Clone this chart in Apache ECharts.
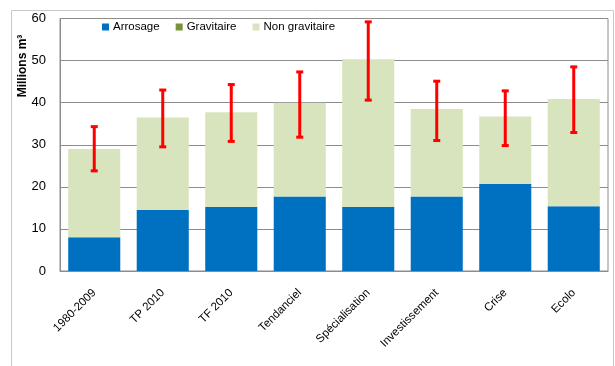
<!DOCTYPE html>
<html><head><meta charset="utf-8">
<script src="https://cdn.jsdelivr.net/npm/echarts@6/dist/echarts.min.js"></script>
<style>html,body{margin:0;padding:0;background:#fff}#c{width:615px;height:366px}</style>
</head><body><div id="c"></div>
<script>
const categories = ['1980-2009','TP 2010','TF 2010','Tendanciel','Spécialisation','Investissement','Crise','Ecolo'];
const arrosage = [8.0, 14.5, 15.2, 17.7, 15.2, 17.7, 20.7, 15.4];
const gravitaire = [0, 0, 0, 0, 0, 0, 0, 0];
const nonGravitaire = [21.0, 22.0, 22.5, 22.3, 35.1, 20.8, 16.0, 25.5];
const errLow = [23.8, 29.5, 30.8, 31.8, 40.6, 31.0, 29.8, 32.9];
const errHigh = [34.3, 43.0, 44.3, 47.3, 59.2, 45.1, 42.8, 48.5];
const yTicks = [0, 10, 20, 30, 40, 50, 60];

const FONT = 'Liberation Sans';
const chart = echarts.init(document.getElementById('c'), null, {renderer: 'canvas'});
const errData = categories.map((c, i) => [i, errLow[i], errHigh[i]]);
chart.setOption({
  animation: false,
  textStyle: {fontFamily: FONT},
  graphic: [
    {type: 'rect', shape: {x: 11.5, y: 10.5, width: 602, height: 370}, style: {fill: 'none', stroke: '#c8c8c8', lineWidth: 1}, z: -10},
    {type: 'text', x: 23, y: 66, rotation: Math.PI / 2,
     style: {text: 'Millions m³', fontFamily: FONT, fontSize: 12, fontWeight: 'bold', fill: '#000', align: 'center', verticalAlign: 'middle'}}
  ],
  legend: {
    top: 19, left: 98, itemWidth: 7, itemHeight: 7, itemGap: 16, icon: 'rect',
    backgroundColor: '#fff', padding: [2, 4],
    textStyle: {fontFamily: FONT, fontSize: 11.5, color: '#000', padding: [0, 0, 0, -1]},
    data: ['Arrosage', 'Gravitaire', 'Non gravitaire']
  },
  grid: {left: 60, right: 7, top: 18.5, bottom: 95, show: true, borderColor: '#8c8c8c', borderWidth: 1},
  xAxis: {
    type: 'category', data: categories,
    axisLine: {lineStyle: {color: '#8c8c8c'}},
    axisTick: {show: false},
    axisLabel: {rotate: 45, fontSize: 11.5, color: '#000', fontFamily: FONT, margin: 20, interval: 0}
  },
  yAxis: {
    type: 'value', min: yTicks[0], max: yTicks[yTicks.length - 1], interval: 10,
    axisLine: {show: true, lineStyle: {color: '#8c8c8c'}},
    axisTick: {show: false},
    axisLabel: {fontSize: 13, color: '#000', fontFamily: FONT, margin: 14},
    splitLine: {lineStyle: {color: '#8c8c8c', width: 1}}
  },
  series: [
    {name: 'Arrosage', type: 'bar', stack: 's', data: arrosage, barCategoryGap: '24%', itemStyle: {color: '#0070C0'}},
    {name: 'Gravitaire', type: 'bar', stack: 's', data: gravitaire, itemStyle: {color: '#77933C'}},
    {name: 'Non gravitaire', type: 'bar', stack: 's', data: nonGravitaire, itemStyle: {color: '#D7E4BD'}},
    {
      type: 'custom', z: 10, data: errData,
      renderItem: function (params, api) {
        const x = api.value(0);
        const lo = api.coord([x, api.value(1)]);
        const hi = api.coord([x, api.value(2)]);
        const cw = 3.5;
        const st = {stroke: '#FF0000', lineWidth: 3};
        return {type: 'group', children: [
          {type: 'line', shape: {x1: lo[0], y1: lo[1], x2: hi[0], y2: hi[1]}, style: st},
          {type: 'line', shape: {x1: lo[0] - cw, y1: lo[1], x2: lo[0] + cw, y2: lo[1]}, style: st},
          {type: 'line', shape: {x1: hi[0] - cw, y1: hi[1], x2: hi[0] + cw, y2: hi[1]}, style: st}
        ]};
      }
    }
  ]
});
</script></body></html>
